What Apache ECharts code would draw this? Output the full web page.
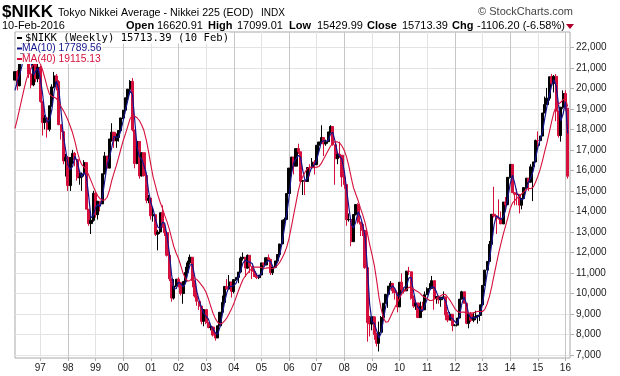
<!DOCTYPE html>
<html>
<head>
<meta charset="utf-8">
<script src="https://cdn.jsdelivr.net/npm/echarts@6/dist/echarts.min.js"></script>
<style>
  html, body { margin: 0; padding: 0; background: #fff; }
  #chart { width: 620px; height: 376px; }
</style>
</head>
<body>
<div id="chart"></div>
<script>
// weekly $NIKK, one sample per month (value at month end)
var firstOpen = 20400;
var closes = [
  20813, 20125, 21407, 22041, 21956, 22531, 20693, 20167, 21556, 20467, 21020, 19361, // 96
  18330, 18557, 18003, 19151, 20069, 20605, 20331, 18229, 17888, 16459, 16636, 15259, // 97
  16628, 16831, 16527, 15641, 15671, 15830, 16379, 14108, 13406, 13565, 14883, 13842, // 98
  14499, 14368, 15837, 16702, 16112, 17530, 17862, 17437, 17605, 17942, 18558, 18934, // 99
  19540, 19960, 20337, 17974, 16332, 17411, 15727, 16861, 15747, 14539, 14649, 13786, // 00
  13843, 12883, 12999, 13934, 13262, 12969, 11861, 10713, 9775, 10366, 10697, 10543,  // 01
  9997, 10588, 11025, 11493, 11764, 10622, 9877, 9619, 9383, 8640, 9216, 8579,        // 02
  8340, 8363, 7973, 7831, 8425, 9083, 9563, 10344, 10219, 10560, 10101, 10677,        // 03
  10784, 11042, 11715, 11762, 11236, 11859, 11326, 11082, 10824, 10771, 10899, 11489, // 04
  11388, 11741, 11669, 11009, 11277, 11584, 11900, 12414, 13574, 13607, 14872, 16111, // 05
  16650, 16206, 17060, 16907, 15467, 15506, 15457, 16141, 16128, 16399, 16274, 17226, // 06
  17383, 17604, 17288, 17400, 17876, 18138, 17249, 16570, 16786, 16738, 15681, 15308, // 07
  13592, 13604, 12526, 13850, 14339, 13482, 13377, 13073, 11260, 8577, 8512, 8860,    // 08
  7994, 7568, 8110, 8828, 9523, 9958, 10357, 10493, 10133, 10035, 9346, 10546,        // 09
  10198, 10126, 11090, 11057, 9769, 9383, 9537, 8824, 9369, 9202, 9937, 10229,        // 10
  10238, 10624, 9755, 9850, 9694, 9816, 9833, 8955, 8700, 8988, 8435, 8455,           // 11
  8803, 9723, 10084, 9521, 8543, 9007, 8695, 8840, 8870, 8928, 9446, 10395,           // 12
  11139, 11559, 12398, 13861, 13775, 13677, 13668, 13389, 14456, 14328, 15662, 16291, // 13
  14915, 14841, 14828, 14304, 14632, 15162, 15621, 15425, 16174, 16414, 17460, 17451, // 14
  17674, 18798, 19207, 19520, 20563, 20236, 20585, 18890, 17700, 19083, 19747, 19034, // 15
  15713                                                                               // 16
];
var highs = [
  20813, 20900, 21407, 22200, 22300, 22600, 22531, 20900, 21556, 21600, 21300, 21100,
  19361, 18700, 18600, 19151, 20200, 20800, 20700, 20400, 18229, 17900, 16800, 16700,
  16628, 17000, 16900, 16527, 15900, 15900, 16500, 16379, 14108, 13800, 15000, 15000,
  14499, 14500, 15837, 16900, 16702, 17530, 18300, 17862, 17800, 17942, 18558, 18934,
  19540, 19960, 20400, 20500, 17974, 17411, 17411, 16861, 16861, 15747, 14800, 14649,
  14200, 13843, 13100, 13934, 14300, 13400, 12969, 11861, 10713, 10700, 10700, 10800,
  10543, 10588, 11300, 11600, 11900, 11764, 10622, 10200, 9619, 9383, 9216, 9216,
  8579, 8500, 8400, 8100, 8425, 9083, 9900, 10344, 10700, 10900, 10560, 10677,
  10784, 11042, 11800, 12000, 11762, 11900, 11859, 11326, 11100, 11000, 10899, 11489,
  11489, 11741, 11900, 11669, 11277, 11584, 11900, 12414, 13574, 13700, 14872, 16111,
  16650, 16650, 17060, 17300, 16907, 15506, 15506, 16141, 16300, 16600, 16500, 17226,
  17383, 18200, 17604, 17500, 17876, 18200, 18138, 17249, 16900, 17400, 16738, 15800,
  15308, 13900, 13604, 13850, 14339, 14400, 13482, 13400, 13073, 11260, 8900, 8860,
  8860, 8077, 8627, 8900, 9523, 9958, 10357, 10600, 10500, 10258, 10035, 10546,
  10982, 10300, 11090, 11300, 11057, 9900, 9600, 9537, 9600, 9600, 10100, 10300,
  10500, 10857, 10624, 9850, 9900, 9816, 10100, 9833, 9100, 9100, 8988, 8500,
  8803, 9723, 10130, 10084, 9521, 9007, 9100, 9070, 9160, 8930, 9446, 10395,
  11139, 11559, 12560, 13861, 15200, 13775, 14589, 14000, 14456, 14700, 15662, 16291,
  16291, 14915, 15100, 14828, 14632, 15162, 15621, 15621, 16300, 16414, 17500, 17900,
  17674, 18798, 19600, 20020, 20563, 20700, 20650, 20700, 18890, 19083, 19900, 19900,
  19034
];
var lows = [
  20400, 19900, 20100, 21400, 21600, 21900, 20500, 20000, 20100, 20300, 20300, 19300,
  17700, 18000, 17600, 17900, 19100, 20000, 19900, 18200, 17500, 16300, 15700, 15000,
  15000, 16300, 16200, 15500, 15300, 15000, 15700, 14100, 13300, 12900, 13500, 13700,
  13600, 14000, 14368, 15800, 16000, 16100, 17400, 17100, 17100, 17400, 17900, 18500,
  18900, 19400, 19700, 17900, 16100, 16300, 15600, 15700, 15700, 14400, 14400, 13600,
  13500, 12800, 12100, 12900, 13200, 12800, 11800, 10600, 9600, 9700, 10300, 10300,
  9900, 9500, 10500, 11000, 11400, 10300, 9800, 9400, 9200, 8500, 8400, 8500,
  8300, 8200, 7900, 7700, 7831, 8400, 9083, 9500, 10200, 10200, 9800, 10000,
  10600, 10500, 11000, 11600, 10800, 11200, 11000, 10700, 10800, 10700, 10700, 10899,
  11300, 11388, 11600, 10900, 10900, 11277, 11500, 11800, 12400, 13200, 13607, 14872,
  15700, 15800, 16206, 16800, 15400, 14800, 14800, 15457, 15700, 16100, 15800, 16274,
  16900, 17300, 16700, 17200, 17300, 17800, 17200, 15300, 16300, 16600, 15200, 15100,
  13300, 13500, 12300, 12526, 13800, 13400, 12800, 12800, 11200, 7650, 7900, 8200,
  7745, 7416, 7173, 8110, 8828, 9523, 9300, 10300, 10000, 9700, 9080, 9346,
  10000, 10000, 10126, 10900, 9700, 9300, 9200, 8800, 8824, 9100, 9202, 9937,
  10200, 10238, 9207, 9500, 9500, 9350, 9800, 8700, 8600, 8700, 8160, 8400,
  8390, 8803, 9723, 9500, 8500, 8300, 8600, 8600, 8700, 8530, 8660, 9446,
  10395, 11139, 11559, 12398, 13700, 12900, 13600, 13389, 13389, 14000, 14300, 15600,
  14900, 14300, 14300, 13900, 14100, 14632, 15100, 15000, 15400, 14500, 16400, 17100,
  17200, 17674, 18798, 19200, 19400, 20100, 19800, 18400, 17600, 17400, 19000, 18900,
  15600
];
var ma10 = [
  19900, 20334, 20643, 21099, 21802, 22111, 21932, 21218, 20652, 20836, 20966, 20467,
  19714, 18738, 18358, 18446, 18951, 19867, 20359, 19970, 18886, 17696, 16994, 16275,
  16036, 16196, 16694, 16440, 15956, 15695, 15894, 15694, 14745, 13685, 13797, 14198,
  14347, 14242, 14733, 15514, 16273, 16626, 17109, 17654, 17622, 17620, 17959, 18426,
  18935, 19420, 19896, 19692, 18439, 17138, 16670, 16560, 16225, 15872, 14983, 14423,
  14099, 13615, 13242, 13162, 13463, 13432, 12830, 11997, 10909, 10230, 10233, 10549,
  10478, 10315, 10478, 10975, 11389, 11421, 10857, 10080, 9658, 9303, 9023, 8877,
  8749, 8428, 8270, 8078, 8010, 8362, 8959, 9566, 10045, 10336, 10342, 10386,
  10500, 10803, 11099, 11491, 11631, 11555, 11526, 11458, 11111, 10903, 10817, 10983,
  11262, 11500, 11603, 11551, 11297, 11250, 11546, 11902, 12487, 13178, 13870, 14702,
  15797, 16366, 16546, 16730, 16647, 15977, 15482, 15623, 15900, 16192, 16277, 16524,
  16929, 17377, 17458, 17422, 17464, 17767, 17854, 17410, 16853, 16700, 16525, 15967,
  15065, 14191, 13366, 13189, 13496, 13983, 13757, 13348, 12785, 11307, 9496, 8610,
  8551, 8203, 7834, 8077, 8730, 9376, 9893, 10248, 10368, 10237, 9919, 9847,
  10053, 10303, 10360, 10748, 10789, 10133, 9551, 9328, 9191, 9143, 9420, 9745,
  10130, 10319, 10301, 10078, 9783, 9775, 9777, 9637, 9205, 8851, 8768, 8632,
  8524, 8882, 9481, 9836, 9504, 8984, 8778, 8835, 8796, 8872, 9020, 9472,
  10227, 10972, 11595, 12424, 13333, 13784, 13709, 13611, 13718, 14057, 14663, 15335,
  15773, 15378, 14864, 14719, 14557, 14633, 15078, 15419, 15656, 15966, 16558, 17094,
  17503, 17841, 18496, 19133, 19638, 20129, 20426, 20095, 19221, 18415, 18747, 19361,
  17790
];
var ma40 = [
  18050, 18500, 19000, 19500, 20000, 20450, 20800, 21000, 21150, 21235, 21266, 21202,
  20882, 20487, 20046, 19709, 19618, 19560, 19499, 19337, 19100, 18914, 18703, 18444,
  18152, 17832, 17425, 16938, 16535, 16279, 16160, 16015, 15772, 15499, 15220, 14963,
  14750, 14615, 14543, 14561, 14690, 15031, 15498, 15879, 16230, 16630, 17054, 17459,
  17789, 18160, 18530, 18692, 18637, 18565, 18431, 18214, 17942, 17488, 16915, 16256,
  15662, 15241, 14804, 14460, 14160, 13806, 13503, 13135, 12694, 12278, 11963, 11705,
  11350, 10983, 10726, 10598, 10636, 10741, 10761, 10674, 10550, 10410, 10258, 10046,
  9735, 9371, 9035, 8774, 8594, 8511, 8546, 8660, 8813, 9028, 9248, 9495,
  9809, 10118, 10410, 10678, 10850, 10991, 11124, 11221, 11284, 11291, 11283, 11262,
  11229, 11236, 11254, 11226, 11219, 11272, 11377, 11524, 11724, 11963, 12260, 12681,
  13241, 13828, 14406, 14989, 15436, 15713, 15923, 16097, 16168, 16155, 16145, 16158,
  16194, 16339, 16557, 16763, 16968, 17176, 17335, 17398, 17390, 17330, 17187, 16971,
  16649, 16200, 15651, 15150, 14838, 14530, 14160, 13828, 13459, 12955, 12394, 11907,
  11378, 10676, 9850, 9250, 8800, 8600, 8620, 8850, 9100, 9332, 9544, 9778,
  9989, 10099, 10195, 10297, 10296, 10214, 10145, 10088, 9993, 9873, 9807, 9749,
  9655, 9657, 9725, 9763, 9829, 9902, 9962, 9943, 9803, 9649, 9458, 9264,
  9134, 9077, 9094, 9091, 9051, 9045, 9046, 9052, 9098, 9128, 9119, 9121,
  9228, 9486, 9842, 10317, 10878, 11419, 11950, 12432, 12877, 13280, 13685, 14129,
  14404, 14522, 14645, 14744, 14848, 14957, 15068, 15126, 15107, 15183, 15412, 15703,
  16036, 16455, 16911, 17353, 17855, 18366, 18823, 19134, 19228, 19320, 19451, 19494,
  19115
];
var priceTicks = [7000, 8000, 9000, 10000, 11000, 12000, 13000, 14000, 15000,
                  16000, 17000, 18000, 19000, 20000, 21000, 22000];

// one category per month boundary, Feb 1996 .. Mar 2016 (last one is the right margin)
var months = [];
for (var i = 0; i < closes.length + 1; i++) {
    var m = i + 1;
    var yr = 1996 + Math.floor(m / 12);
    var mo = m % 12 + 1;
    months.push(yr + '-' + (mo < 10 ? '0' : '') + mo);
}
function isYearStart(idx, val) { return val.slice(5) === '01'; }

var candles = closes.map(function (c, i) {
    var o = i ? closes[i - 1] : firstOpen;
    return [o, c, lows[i], highs[i]];
});

var RED = '#d6103c', NAVY = '#14148c';
var FONT = '"Liberation Sans", Arial, sans-serif';

function txt(x, y, s, opt) {
    opt = opt || {};
    return {
        type: 'text', x: x, y: y, z: 100,
        style: {
            text: s, fill: opt.color || '#000',
            font: (opt.weight || 'normal') + ' ' + (opt.size || 11) + 'px ' + (opt.family || FONT),
            textAlign: opt.align || 'left', textVerticalAlign: 'middle',
            backgroundColor: opt.bg, padding: opt.pad
        }
    };
}
function mark(y, color) {
    return { type: 'rect', z: 101, shape: { x: 17, y: y - 1, width: 5, height: 2 }, style: { fill: color } };
}

var chart = echarts.init(document.getElementById('chart'));
chart.setOption({
    animation: false,
    backgroundColor: '#fff',
    grid: {
        left: 15, right: 50, top: 32, bottom: 18,
        show: true, borderColor: '#a8a8a8', borderWidth: 1, backgroundColor: '#fff',
        containLabel: false, outerBoundsMode: 'none'
    },
    xAxis: {
        type: 'category',
        data: months,
        boundaryGap: false,
        axisLine: { show: false },
        axisTick: { show: true, interval: isYearStart, length: 3, lineStyle: { color: '#b0b0b0' } },
        axisLabel: {
            interval: isYearStart, color: '#222', fontSize: 10, fontFamily: FONT, margin: 5,
            formatter: function (v) { return v.slice(2, 4); }
        },
        splitLine: { show: true, interval: isYearStart, lineStyle: { color: ['#e3e3e3', '#c6c6c6'], width: 1 } }
    },
    yAxis: {
        type: 'value',
        position: 'right',
        min: 6854, max: 22746,
        scale: true,
        axisLine: { show: false },
        axisTick: { show: true, customValues: priceTicks, length: 4, lineStyle: { color: '#b0b0b0' } },
        axisLabel: { customValues: priceTicks, color: '#222', fontSize: 10, fontFamily: FONT, margin: 6 },
        splitLine: { show: true, lineStyle: { color: '#e3e3e3', width: 1 } }
    },
    series: [{
        name: '$NIKK',
        type: 'candlestick',
        data: candles,
        barWidth: 2.6,
        itemStyle: { color: '#000', color0: RED, borderColor: '#000', borderColor0: RED, borderWidth: 1 },
        z: 2
    }, {
        name: 'MA(10)',
        type: 'line',
        data: ma10,
        symbol: 'none',
        lineStyle: { color: NAVY, width: 1.2 },
        z: 3
    }, {
        name: 'MA(40)',
        type: 'line',
        data: ma40,
        symbol: 'none',
        lineStyle: { color: RED, width: 1.1 },
        z: 4
    }],
    graphic: [
        txt(2, 12, '$NIKK', { weight: 'bold', size: 17 }),
        txt(58, 13, 'Tokyo Nikkei Average - Nikkei 225 (EOD)', { size: 10.7 }),
        txt(261, 13, 'INDX', { size: 10 }),
        txt(573, 12, '\u00a9 StockCharts.com', { size: 11, align: 'right', color: '#444' }),
        txt(2, 26, '10-Feb-2016', { size: 11 }),
        txt(126, 26, 'Open', { size: 11, weight: 'bold' }),
        txt(157, 26, '16620.91', { size: 11 }),
        txt(208, 26, 'High', { size: 11, weight: 'bold' }),
        txt(237, 26, '17099.01', { size: 11 }),
        txt(289, 26, 'Low', { size: 11, weight: 'bold' }),
        txt(317, 26, '15429.99', { size: 11 }),
        txt(367, 26, 'Close', { size: 11, weight: 'bold' }),
        txt(402, 26, '15713.39', { size: 11 }),
        txt(452, 26, 'Chg', { size: 11, weight: 'bold' }),
        txt(477, 26, '-1106.20 (-6.58%)', { size: 11 }),
        { type: 'polygon', z: 100, shape: { points: [[566, 24], [574, 24], [570, 29]] }, style: { fill: '#b0002a' } },
        txt(16, 38, '$NIKK (Weekly) 15713.39 (10 Feb)', { size: 10.6, family: '"DejaVu Sans Mono", monospace', bg: '#fff', pad: [0, 1, 0, 9] }),
        txt(16, 48.5, 'MA(10) 17789.56', { size: 10.3, color: NAVY, bg: '#fff', pad: [0, 1, 0, 6] }),
        txt(16, 59, 'MA(40) 19115.13', { size: 10.3, color: RED, bg: '#fff', pad: [0, 1, 0, 6] }),
        mark(38, '#000'),
        mark(48.5, NAVY),
        mark(59, RED)
    ]
});
</script>
</body>
</html>
